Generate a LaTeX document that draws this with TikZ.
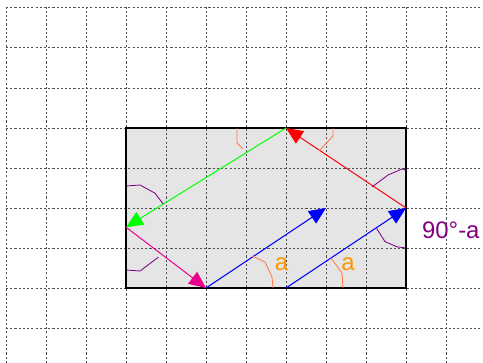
\documentclass[tikz,border=0pt]{standalone}
\usepackage{fontspec}
\setmainfont{Liberation Sans}
\usetikzlibrary{arrows.meta}
\definecolor{boxgrey}{RGB}{229,229,229}
\definecolor{gridgrey}{RGB}{80,80,80}
\definecolor{angleorange}{RGB}{255,120,70}
\definecolor{labelorange}{RGB}{255,150,0}
\definecolor{anglepurple}{RGB}{128,0,128}
\definecolor{raygreen}{RGB}{0,255,0}

\begin{document}
\begin{tikzpicture}[
    gridline/.style={gridgrey, line width=0.7pt, dash pattern=on 1.5pt off 1.5pt},
    ray/.style={line width=0.7pt, -{Triangle[length=12pt, width=10.5pt]}},
    anglemark/.style={line width=0.6pt},
    anglelabel/.style={font=\fontsize{17}{20}\selectfont, inner sep=0pt},
]
    \useasboundingbox (-0.15,-0.875) rectangle (11.925,8.2);

    % box
    \fill[boxgrey] (3,1) rectangle (10,5);

    % grid
    \foreach \x in {0,...,11} {
        \draw[gridline] (\x,-0.875) -- (\x,8.05);
    }
    \foreach \y in {0,...,8} {
        \draw[gridline] (0,\y) -- (11.925,\y);
    }
    \draw[black, line width=0.8pt] (3,1) rectangle (10,5);

    % reflection points
    \coordinate (top)   at (7,5);
    \coordinate (right) at (10,3);
    \coordinate (left)  at (3,2.52);
    \coordinate (bot1)  at (5,1);
    \coordinate (bot2)  at (7,1);
    \coordinate (mid)   at (8,3);

    \draw[ray, red] (right) -- (top);
    \draw[ray, raygreen] (top) -- (left);
    \draw[ray, magenta] (left) -- (bot1);
    \draw[ray, blue] (bot1) -- (mid);
    \draw[ray, blue] (bot2) -- (right);

    % angle marks
    \draw[anglemark, angleorange] (6.15,1.8) -- (6.475,1.65) -- (6.65,1.275) -- (6.675,1);
    \draw[anglemark, angleorange] (8.125,1.75) -- (8.4,1.375) -- (8.425,1);
    \draw[anglemark, angleorange] (5.775,5) -- (5.775,4.625) -- (5.925,4.475);
    \draw[anglemark, angleorange] (8.175,5) -- (8.175,4.8) -- (7.825,4.425);
    \draw[anglemark, anglepurple] (9.15,3.525) -- (9.55,3.825) -- (9.9,3.975) -- (10,3.95);
    \draw[anglemark, anglepurple] (9.265,2.49) -- (9.475,2.16) -- (9.77,2.03) -- (10,2);
    \draw[anglemark, anglepurple] (3,3.55) -- (3.35,3.575) -- (3.725,3.37) -- (3.93,3.1);
    \draw[anglemark, anglepurple] (3,1.45) -- (3.35,1.425) -- (3.81,1.77);

    % labels
    \node[anglelabel, labelorange] (label-a1) at (6.89,1.6) {a};
    \node[anglelabel, labelorange] (label-a2) at (8.55,1.6) {a};
    \node[anglelabel, anglepurple] (label-comp) at (11.12,2.45) {90°-a};
\end{tikzpicture}
\end{document}
